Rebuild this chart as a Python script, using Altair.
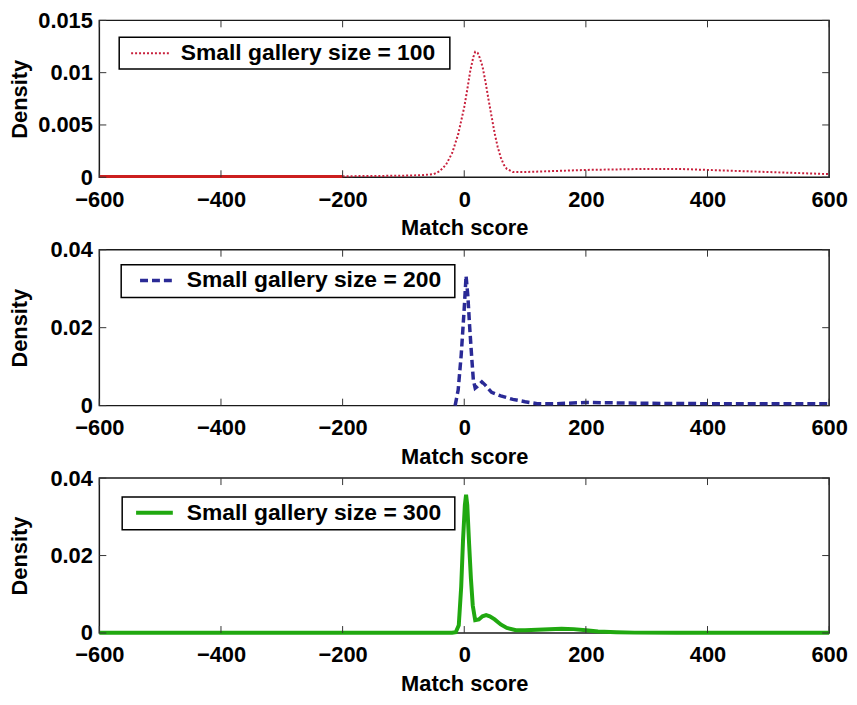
import altair as alt
import pandas as pd

# ---------------- data ----------------
x_ticks = [-600, -400, -200, 0, 200, 400, 600]

p1_label = "Small gallery size = 100"
p1_x = [-200, -150, -100, -70, -50, -40, -30, -20, -10, 0, 5, 10, 15, 18, 22,
        25, 30, 35, 40, 45, 50, 55, 60, 65, 70, 80, 100, 150, 200, 250, 300,
        350, 400, 450, 500, 550, 600]
p1_y = [0.0001, 0.00012, 0.00015, 0.0002, 0.0003, 0.0006, 0.0012, 0.0023,
        0.0041, 0.0067, 0.0084, 0.0102, 0.0115, 0.0120, 0.0119, 0.0115,
        0.0106, 0.0091, 0.0074, 0.0058, 0.0042, 0.0029, 0.0019, 0.0012,
        0.0008, 0.0005, 0.0005, 0.0006, 0.0007, 0.00075, 0.0008, 0.0008,
        0.0007, 0.0006, 0.0005, 0.0004, 0.0003]
p1_solid_x = [-600, -200]
p1_solid_y = [0.00008, 0.00008]
p1_yticks = [0, 0.005, 0.01, 0.015]

p2_label = "Small gallery size = 200"
p2_x = [-15, -10, -5, 0, 3, 6, 9, 12, 15, 18, 22, 29, 35, 45, 60, 80, 100,
        120, 150, 200, 250, 300, 400, 500, 600]
p2_y = [0.0, 0.004, 0.013, 0.025, 0.0333, 0.028, 0.020, 0.013, 0.0065,
        0.0045, 0.0050, 0.0061, 0.0052, 0.0034, 0.0025, 0.0016, 0.0010,
        0.0005, 0.0005, 0.0008, 0.0007, 0.0006, 0.0005, 0.0005, 0.0005]
p2_yticks = [0, 0.02, 0.04]

p3_label = "Small gallery size = 300"
p3_x = [-600, -100, -20, -14, -9, -5, -2, 1, 3, 5, 8, 11, 14, 18, 24, 30, 36,
        42, 50, 60, 70, 85, 100, 130, 160, 180, 200, 220, 250, 280, 350, 600]
p3_y = [0.00005, 0.00005, 0.00005, 0.0002, 0.002, 0.012, 0.024, 0.033,
        0.0357, 0.033, 0.023, 0.014, 0.0071, 0.0033, 0.0035, 0.0043, 0.0046,
        0.0043, 0.0035, 0.0022, 0.0013, 0.0007, 0.0007, 0.0009, 0.0011,
        0.0010, 0.0007, 0.0004, 0.0002, 0.0001, 0.00005, 0.00005]
p3_yticks = [0, 0.02, 0.04]

# ---------------- styling ----------------
W = 735
FONT = "Liberation Sans"
TICK = 7
ENTRY_H = 22


def panel(xs, ys, label, color, dash, sw, ymax, yticks, height, leg, box,
          solid=None):
    df = pd.DataFrame({"score": xs, "density": ys, "series": label})
    xscale = alt.Scale(domain=[-600, 600], nice=False, zero=False)
    yscale = alt.Scale(domain=[0, ymax], nice=False, zero=False)
    xaxis = alt.Axis(values=x_ticks, format="d", ticks=False, domain=False,
                     grid=False, labelFlush=False, labelPadding=12,
                     title="Match score", titlePadding=8)
    yaxis = alt.Axis(values=yticks, labelExpr="format(datum.value, '.3~f')",
                     ticks=False, domain=False, grid=False, labelPadding=7,
                     title="Density", titleX=-90, titleY=height / 2,
                     titleBaseline="top", titleAlign="center", titleAngle=270)
    X = alt.X("score:Q", scale=xscale, axis=xaxis)
    Y = alt.Y("density:Q", scale=yscale, axis=yaxis)
    legend_kw = dict(title=None, orient="none", legendX=leg[0], legendY=leg[1],
                     symbolType="stroke", symbolSize=leg[2] ** 2,
                     symbolStrokeWidth=sw, symbolOffset=0,
                     labelOffset=leg[3], labelFontSize=23, labelFont=FONT,
                     labelFontWeight="bold", labelColor="black",
                     labelLimit=500, padding=0, clipHeight=ENTRY_H)
    line_kw = dict(strokeWidth=sw)
    if dash:
        legend_kw["symbolDash"] = dash
        line_kw["strokeDash"] = dash

    # legend frame (decoration behind the legend)
    frame = alt.Chart(pd.DataFrame({"k": [0]})).mark_rect(
        fill="white", stroke="black", strokeWidth=1.5).encode(
        x=alt.value(box[0]), x2=alt.value(box[1]),
        y=alt.value(box[2]), y2=alt.value(box[3]))

    line = alt.Chart(df).mark_line(**line_kw).encode(
        x=X, y=Y,
        color=alt.Color("series:N",
                        scale=alt.Scale(domain=[label], range=[color]),
                        legend=alt.Legend(**legend_kw)),
    )
    layers = [frame, line]
    if solid is not None:
        sdf = pd.DataFrame({"score": solid[0], "density": solid[1]})
        layers.append(alt.Chart(sdf).mark_line(strokeWidth=3, color=solid[2]).encode(
            x=X, y=Y))
    xt = pd.DataFrame({"score": x_ticks})
    yt = pd.DataFrame({"density": yticks})
    rule = dict(color="#333333", strokeWidth=1)
    layers.append(alt.Chart(xt).mark_rule(**rule).encode(
        x=X, y=alt.value(0), y2=alt.value(TICK)))
    layers.append(alt.Chart(xt).mark_rule(**rule).encode(
        x=X, y=alt.value(height - TICK), y2=alt.value(height)))
    layers.append(alt.Chart(yt).mark_rule(**rule).encode(
        y=Y, x=alt.value(0), x2=alt.value(TICK)))
    layers.append(alt.Chart(yt).mark_rule(**rule).encode(
        y=Y, x=alt.value(W - TICK), x2=alt.value(W)))
    return alt.layer(*layers).properties(width=W, height=height)


p1 = panel(p1_x, p1_y, p1_label, "#c8203c", [2, 2], 2, 0.015, p1_yticks, 158,
           (31, 22, 40, 9), (20, 353, 17, 49),
           solid=(p1_solid_x, p1_solid_y, "#cc1f1f"))
p2 = panel(p2_x, p2_y, p2_label, "#2a2a96", [8, 4], 3.5, 0.04, p2_yticks, 157,
           (39, 20, 32, 13), (22, 358, 15, 48))
p3 = panel(p3_x, p3_y, p3_label, "#20a810", None, 4, 0.04, p3_yticks, 156,
           (35, 24, 37, 12), (23, 358, 19, 52))

chart = (
    alt.vconcat(p1, p2, p3, spacing=-2)
    .resolve_scale(color="independent")
    .resolve_legend(color="independent")
    .properties(padding={"left": 0, "top": -2, "right": 0, "bottom": 0})
    .configure(font=FONT)
    .configure_axis(labelFont=FONT, labelFontSize=22, labelFontWeight="bold",
                    labelColor="black", titleFont=FONT, titleFontSize=22,
                    titleFontWeight="bold", titleColor="black")
    .configure_view(stroke="#1a1a1a", strokeWidth=1.5)
)

chart.save("out.html", embed_options={"renderer": "svg", "actions": False})
